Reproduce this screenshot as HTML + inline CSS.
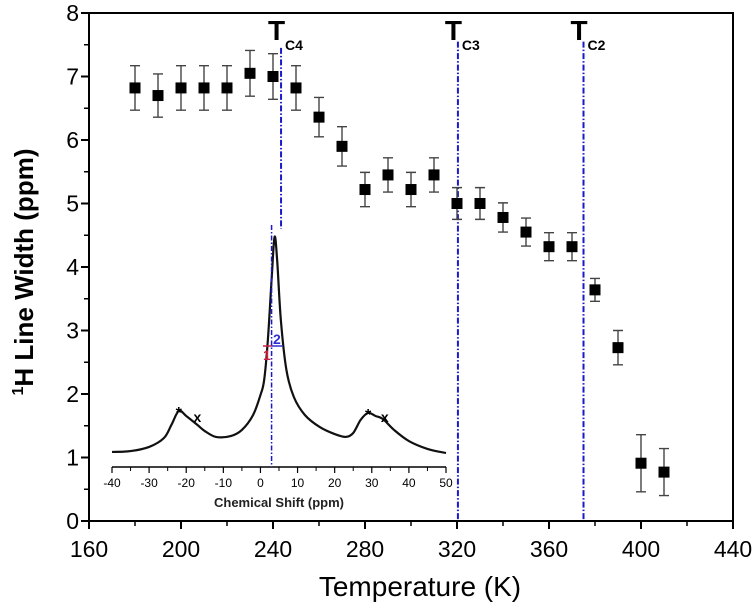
<!DOCTYPE html>
<html><head><meta charset="utf-8"><style>
html,body{margin:0;padding:0;background:#fff}
svg{display:block;font-family:"Liberation Sans",Arial,sans-serif}
</style></head><body>
<svg id="chart" width="753" height="612" viewBox="0 0 753 612" xmlns="http://www.w3.org/2000/svg">
<g id="axes"></g>
<g id="inset"></g>
<g id="marks"></g>
<text x="420" y="596" font-size="28" text-anchor="middle">Temperature (K)</text>
<text transform="translate(33,272) rotate(-90)" font-size="26" font-weight="bold" text-anchor="middle"><tspan font-size="16" dy="-10">1</tspan><tspan dy="10">H Line Width (ppm)</tspan></text>
</svg>
<script>
const temps=[180,190,200,210,220,230,240,250,260,270,280,290,300,310,320,330,340,350,360,370,380,390,400,410];
const widths=[6.82,6.70,6.82,6.82,6.82,7.05,7.00,6.82,6.36,5.90,5.22,5.45,5.22,5.45,5.00,5.00,4.78,4.55,4.32,4.32,3.64,2.73,0.91,0.77];
const errs=[0.35,0.34,0.35,0.35,0.35,0.36,0.36,0.35,0.31,0.31,0.27,0.27,0.27,0.27,0.25,0.25,0.23,0.22,0.22,0.22,0.18,0.27,0.45,0.37];
const xTicks=[160,200,240,280,320,360,400,440];
const yTicks=[0,1,2,3,4,5,6,7,8];
const transT=[243.5,320.4,375];
const transLabels=["C4","C3","C2"];
const shifts=[-40,-35,-30,-26,-24,-22,-20,-17,-15,-12,-8,-5,-2,0,1,2,3,3.8,4.5,5.5,7,9,12,16,20,23,25,27,29,31,33,36,40,45,50];
const intens=[0.014,0.018,0.037,0.078,0.138,0.202,0.179,0.138,0.11,0.083,0.087,0.115,0.183,0.275,0.344,0.528,0.803,1,0.894,0.619,0.39,0.266,0.183,0.128,0.096,0.083,0.101,0.161,0.193,0.179,0.165,0.115,0.064,0.028,0.009];
const insetTicks=[-40,-30,-20,-10,0,10,20,30,40,50];

const NS="http://www.w3.org/2000/svg";
const L=89,R=733,T=13,B=521;
const xs=t=>L+(t-160)*(R-L)/280;
const ys=v=>B-v*(B-T)/8;
const ixs=s=>112+(s+40)*(446-112)/90;
const iys=i=>455-i*218;
function mk(p,tag,a){const e=document.createElementNS(NS,tag);for(const k in a)e.setAttribute(k,a[k]);p.appendChild(e);return e;}
const axes=document.getElementById('axes');
let e=mk(axes,'rect',{x:L,y:T,width:R-L,height:B-T,fill:'none',stroke:'#000','stroke-width':2});


xTicks.forEach((t,i)=>{
  let l=mk(axes,'line',{x1:xs(t),x2:xs(t),y1:B,y2:B+8,stroke:'#000','stroke-width':2});
  
  
  if(i<xTicks.length-1){let m=mk(axes,'line',{x1:xs(t+20),x2:xs(t+20),y1:B,y2:B+5,stroke:'#000','stroke-width':1.5});
  
  }
  let tx=mk(axes,'text',{x:xs(t),y:B+36,'font-size':23,'text-anchor':'middle'});tx.textContent=t;
  
  
});
yTicks.forEach((v,i)=>{
  let l=mk(axes,'line',{x1:L-8,x2:L,y1:ys(v),y2:ys(v),stroke:'#000','stroke-width':2});
  
  
  if(i<yTicks.length-1){let m=mk(axes,'line',{x1:L-5,x2:L,y1:ys(v+0.5),y2:ys(v+0.5),stroke:'#000','stroke-width':1.5});
  
  }
  let tx=mk(axes,'text',{x:L-10,y:ys(v)+8,'font-size':23,'text-anchor':'end'});tx.textContent=v;
  
  
});
transT.forEach((t,i)=>{
  const top=i==0?ys(7.45):ys(7.55);const bot=i==0?ys(4.6):B;
  let l=mk(axes,'line',{x1:xs(t),x2:xs(t),y1:top,y2:bot,stroke:'#1a1acc','stroke-width':2,'stroke-dasharray':'6,2,1.5,2'});
  
  
  let tx=mk(axes,'text',{x:xs(t)-13,y:40,'font-size':28,'font-weight':'bold'});tx.textContent='T';
  
  
  let s=mk(axes,'text',{x:xs(t)+4,y:50,'font-size':14,'font-weight':'bold'});s.textContent=transLabels[i];
  
  
});
// inset
const ins=document.getElementById('inset');
let ax=mk(ins,'line',{x1:112,x2:446,y1:467,y2:467,stroke:'#000','stroke-width':1.5});


insetTicks.forEach((s,i)=>{
  let l=mk(ins,'line',{x1:ixs(s),x2:ixs(s),y1:467,y2:473,stroke:'#000','stroke-width':1.2});
  
  
  if(i<insetTicks.length-1){let m=mk(ins,'line',{x1:ixs(s+5),x2:ixs(s+5),y1:467,y2:471,stroke:'#000','stroke-width':1});
  
  }
  let tx=mk(ins,'text',{x:ixs(s),y:487,'font-size':12,'text-anchor':'middle'});tx.textContent=s;
  
  
});
let it=mk(ins,'text',{x:ixs(5),y:507,'font-size':13,'font-weight':'bold','text-anchor':'middle',fill:'#222'});it.textContent='Chemical Shift (ppm)';


const pts=shifts.map((s,i)=>[ixs(s),iys(intens[i])]);
let d='M'+pts[0][0]+','+pts[0][1];
for(let i=0;i<pts.length-1;i++){const p0=pts[Math.max(0,i-1)],p1=pts[i],p2=pts[i+1],p3=pts[Math.min(pts.length-1,i+2)];
  d+=` C${p1[0]+(p2[0]-p0[0])/6},${p1[1]+(p2[1]-p0[1])/6} ${p2[0]-(p3[0]-p1[0])/6},${p2[1]-(p3[1]-p1[1])/6} ${p2[0]},${p2[1]}`;}
let cv=mk(ins,'path',{d:d,fill:'none',stroke:'#111','stroke-width':2.2});


let vl=mk(ins,'line',{x1:ixs(3),x2:ixs(3),y1:225,y2:467,stroke:'#1a1acc','stroke-width':1.5,'stroke-dasharray':'5,2,1.5,2'});


let r1=mk(ins,'line',{x1:263,x2:ixs(3),y1:346,y2:346,stroke:'#d02040','stroke-width':1.5});


let r2=mk(ins,'line',{x1:ixs(3),x2:283,y1:346,y2:346,stroke:'#3030d0','stroke-width':1.5});


let t1=mk(ins,'text',{x:263,y:360,'font-size':14,'font-weight':'bold',fill:'#d02040'});t1.textContent='1';


let t2=mk(ins,'text',{x:273,y:344,'font-size':14,'font-weight':'bold',fill:'#3030d0'});t2.textContent='2';


[[-22,'*',420,16],[-17,'x',424,14],[29,'*',422,16],[33.5,'x',424,14]].forEach(m=>{
  let tx=mk(ins,'text',{x:ixs(m[0]),y:m[2]-2,'font-size':m[3],'font-weight':'bold','text-anchor':'middle'});tx.textContent=m[1];
  
  
});
// data
const mg=document.getElementById('marks');
temps.forEach((t,i)=>{
  const x=xs(t),y=ys(widths[i]),y1=ys(widths[i]+errs[i]),y2=ys(widths[i]-errs[i]);
  let eb=mk(mg,'path',{d:`M${x},${y1}V${y2}M${x-5},${y1}H${x+5}M${x-5},${y2}H${x+5}`,stroke:'#444','stroke-width':1.4,fill:'none'});
  
  
  let p=mk(mg,'rect',{x:x-5.5,y:y-5.5,width:11,height:11,fill:'#000'});
  
  
});
</script>
</body></html>
